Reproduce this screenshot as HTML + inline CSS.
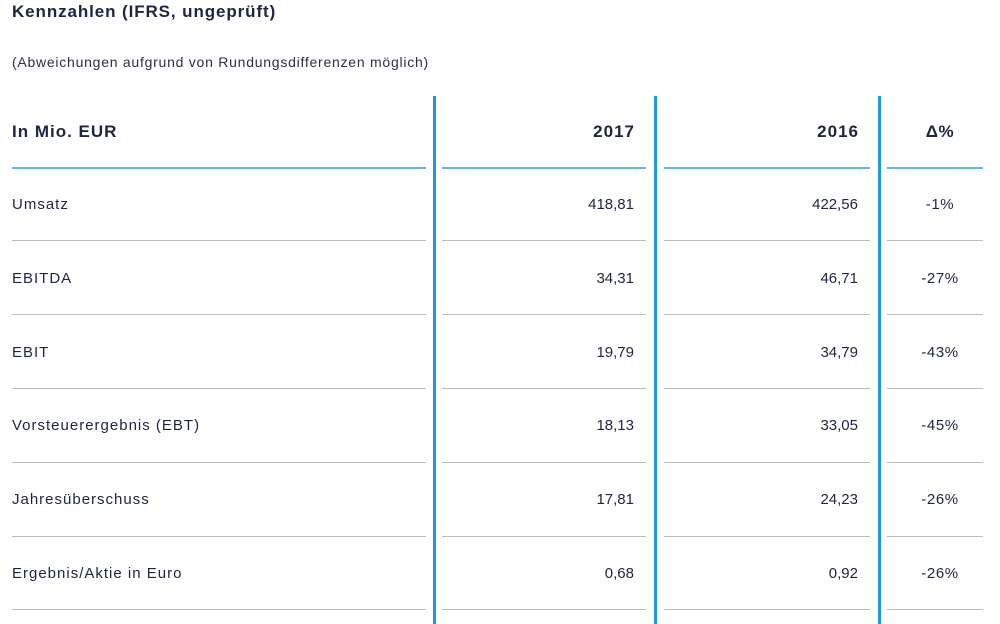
<!DOCTYPE html>
<html><head><style>
body{margin:0;width:1000px;height:624px;background:#fff;font-family:"Liberation Sans",sans-serif;color:#1d2540;position:relative;overflow:hidden}
.t{position:absolute;white-space:nowrap}
.v{position:absolute;top:96px;height:528px;width:3px;background:#1e9ad6}
.h{position:absolute;height:1px;background:#bdbdbd}
.hb{background:#5cb8e4;height:1.5px}
</style></head><body>
<div class="t" style="left:12px;top:2px;font-size:17px;font-weight:bold;letter-spacing:0.9px">Kennzahlen (IFRS, ungeprüft)</div>
<div class="t" style="left:12px;top:54px;font-size:14px;letter-spacing:0.75px;color:#2a3148">(Abweichungen aufgrund von Rundungsdifferenzen möglich)</div>
<div class="v" style="left:433px"></div>
<div class="v" style="left:654px"></div>
<div class="v" style="left:878px"></div>
<div id="g"></div>
<script>
var rows=[["In Mio. EUR","2017","2016","Δ%"],["Umsatz","418,81","422,56","-1%"],["EBITDA","34,31","46,71","-27%"],["EBIT","19,79","34,79","-43%"],["Vorsteuerergebnis (EBT)","18,13","33,05","-45%"],["Jahresüberschuss","17,81","24,23","-26%"],["Ergebnis/Aktie in Euro","0,68","0,92","-26%"]];
var ys=[132,205,279,353,426,500,574],ls=[167,240,314,388,462,536,609],h="";
rows.forEach(function(r,i){
var fw=i==0?"font-weight:bold;font-size:17px;":"font-size:15px;";
var y=ys[i]-(i==0?10:9);
var ls1=i==0?"letter-spacing:1px;":"letter-spacing:1px;";
var ls2=i==0?"letter-spacing:1px;":"";
var off=i==0?1:0;
h+='<div class="t" style="'+fw+ls1+'left:12px;top:'+y+'px">'+r[0]+'</div>';
h+='<div class="t" style="'+fw+ls2+'right:'+(1000-634-off)+'px;top:'+y+'px">'+r[1]+'</div>';
h+='<div class="t" style="'+fw+ls2+'right:'+(1000-858-off)+'px;top:'+y+'px">'+r[2]+'</div>';
h+='<div class="t" style="'+fw+'letter-spacing:0.6px;left:887px;width:106px;text-align:center;top:'+y+'px">'+r[3]+'</div>';
var c=i==0?" hb":"";
[[12,426],[442,646],[664,870],[887,983]].forEach(function(s){h+='<div class="h'+c+'" style="left:'+s[0]+'px;width:'+(s[1]-s[0])+'px;top:'+ls[i]+'px"></div>';});
});
document.getElementById("g").innerHTML=h;
</script>
</body></html>
